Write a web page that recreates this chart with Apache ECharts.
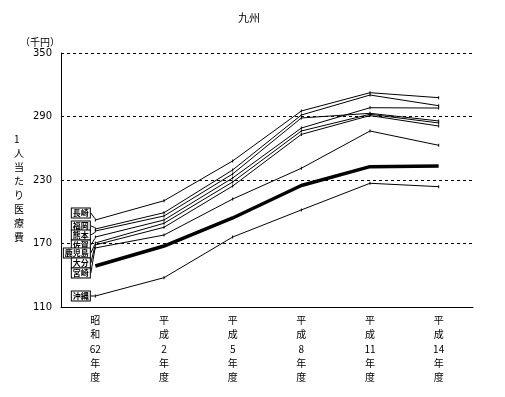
<!DOCTYPE html>
<html>
<head>
<meta charset="utf-8">
<script src="https://cdn.jsdelivr.net/npm/echarts@6/dist/echarts.min.js"></script>
<style>
  html, body { margin: 0; padding: 0; background: #fff; }
  #chart { width: 505px; height: 397px; }
</style>
</head>
<body>
<div id="chart"></div>
<script>
// 年度（縦書き）
var years = ['昭\n和\n62\n年\n度', '平\n成\n2\n年\n度', '平\n成\n5\n年\n度', '平\n成\n8\n年\n度', '平\n成\n11\n年\n度', '平\n成\n14\n年\n度'];
var yTicks = [110, 170, 230, 290, 350];

// 1人当たり医療費（千円）
var nagasaki  = [192.2, 210.4, 248.0, 295.2, 312.5, 307.8];
var fukuoka   = [183.7, 199.1, 239.5, 291.4, 310.3, 300.2];
var kumamoto  = [181.8, 196.0, 235.7, 288.6, 293.0, 285.8];
var saga      = [176.1, 192.2, 231.9, 279.1, 298.3, 298.0];
var kagoshima = [170.5, 189.1, 228.1, 276.3, 292.1, 283.9];
var oita      = [168.6, 185.3, 224.3, 273.1, 290.9, 281.0];
var miyazaki  = [165.8, 178.0, 212.0, 241.1, 276.3, 262.8];
var zenkoku   = [148.7, 167.6, 194.1, 224.8, 242.6, 243.2];
var okinawa   = [120.4, 137.7, 176.1, 201.7, 226.9, 223.7];

var thinNames = ['長崎', '福岡', '熊本', '佐賀', '鹿児島', '大分', '宮崎', '沖縄'];
var thinData  = [nagasaki, fukuoka, kumamoto, saga, kagoshima, oita, miyazaki, okinawa];

var fontJP = '"Noto Sans CJK JP", "DejaVu Sans", sans-serif';

// ラベルを重ならないよう上下にずらす量(px)
var labelDy = [-7, -3, 4, 8, 10, 18, 25, 0];

var myChart = echarts.init(document.getElementById('chart'));

var series = thinData.map(function (vals, k) {
  return {
    name: thinNames[k],
    type: 'line',
    data: vals.map(function (v, i) {
      // 始点だけに県名ラベル
      return i === 0 ? { value: v, label: { show: true } } : v;
    }),
    symbol: 'rect',
    symbolSize: [1, 3],
    itemStyle: { color: '#000' },
    lineStyle: { color: '#000', width: 1 },
    label: {
      show: false,
      position: 'left',
      distance: 5,
      formatter: '{a}',
      fontFamily: fontJP,
      fontSize: 8,
      fontWeight: 'bold',
      lineHeight: 9,
      color: '#000',
      backgroundColor: '#fff',
      borderColor: '#000',
      borderWidth: 1,
      padding: [0, 1]
    },
    labelLine: { show: true, lineStyle: { color: '#000', width: 1 } },
    labelLayout: { dy: labelDy[k] },
    z: 2
  };
});

// 太線（全国）
series.push({
  name: '全国',
  type: 'line',
  data: zenkoku,
  symbol: 'none',
  lineStyle: { color: '#000', width: 3.5 },
  z: 3
});

var option = {
  animation: false,
  backgroundColor: '#fff',
  title: {
    text: '九州',
    left: 233,
    top: 7,
    textStyle: { fontFamily: fontJP, fontSize: 11, fontWeight: 'normal', color: '#000' }
  },
  grid: { left: 61, right: 32, top: 53, bottom: 90 },
  xAxis: {
    type: 'category',
    boundaryGap: true,
    data: years,
    axisLine: { lineStyle: { color: '#000', width: 1 } },
    axisTick: { show: false },
    axisLabel: {
      interval: 0,
      margin: 6,
      fontFamily: fontJP,
      fontSize: 10,
      lineHeight: 14.3,
      color: '#000'
    }
  },
  yAxis: {
    type: 'value',
    min: yTicks[0],
    max: yTicks[yTicks.length - 1],
    interval: 60,
    axisLine: { show: true, lineStyle: { color: '#000', width: 1 } },
    axisTick: { show: false },
    axisLabel: { margin: 9, fontFamily: '"DejaVu Sans", sans-serif', fontSize: 10, color: '#000' },
    splitLine: { show: true, lineStyle: { color: '#000', type: [3, 3], width: 1 } }
  },
  graphic: [
    {
      type: 'text',
      left: 20,
      top: 37,
      style: { text: '（千円）', font: '10px ' + fontJP, fill: '#000' }
    },
    {
      type: 'text',
      left: 14,
      top: 132,
      style: {
        text: '1\n人\n当\nた\nり\n医\n療\n費',
        font: '10px ' + fontJP,
        lineHeight: 14,
        align: 'center',
        fill: '#000'
      }
    }
  ],
  series: series
};

myChart.setOption(option);
</script>
</body>
</html>
